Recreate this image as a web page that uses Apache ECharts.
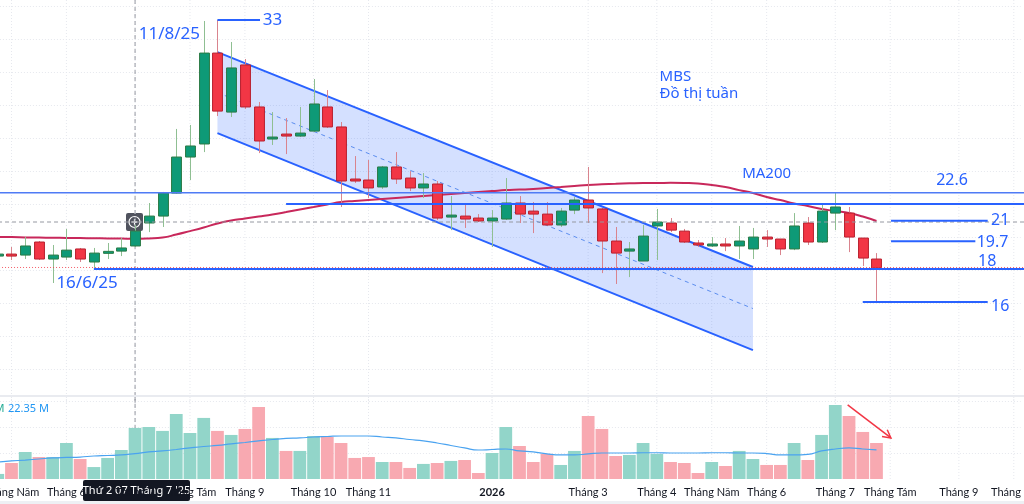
<!DOCTYPE html>
<html><head><meta charset="utf-8">
<script src="https://cdn.jsdelivr.net/npm/echarts@6/dist/echarts.min.js"></script>
<style>html,body{margin:0;padding:0;background:#fff}#c{width:1024px;height:504px}</style>
</head><body><div id="c"></div>
<script>
// ---- DATA (weekly candles, first entry = partial week at the left edge) ----
// [open, close, low, high]
const candles = [
[18.72,18.84,18.60,18.96],[18.84,18.72,18.48,19.27],[18.78,19.33,18.54,19.87],[19.57,18.54,18.48,19.63],
[18.54,18.78,17.09,19.39],[18.66,19.08,18.48,20.36],[19.15,18.54,18.36,19.21],[18.36,18.90,18.00,19.21],
[18.93,18.96,18.54,19.51],[19.02,19.21,18.72,19.81],[19.33,20.23,19.27,20.60],[20.72,21.14,20.17,21.93],
[21.14,22.53,20.48,22.60],[22.53,24.71,22.50,26.41],[24.71,25.38,23.32,26.65],[25.50,31.00,25.01,32.94],
[31.00,27.49,27.19,33.00],[27.43,30.10,27.13,31.67],[30.28,27.74,27.62,30.64],[27.74,25.68,24.95,28.04],
[25.83,25.89,25.44,27.43],[26.07,26.01,24.89,27.07],[25.98,26.16,25.92,27.74],[26.28,27.92,26.22,29.43],
[27.74,26.53,26.47,28.76],[26.53,23.26,21.69,26.83],[23.38,23.26,23.14,24.77],[23.32,22.84,22.23,24.53],
[22.90,24.11,22.78,24.17],[24.11,23.38,23.08,25.01],[23.44,22.84,22.65,23.86],[22.84,23.08,22.23,23.74],
[23.08,21.02,20.90,23.26],[21.12,21.16,20.29,22.35],[21.14,20.96,20.42,21.81],[21.02,20.84,20.78,21.26],
[20.84,21.02,19.27,21.50],[20.96,21.93,20.90,23.44],[21.93,21.26,20.72,22.35],[21.44,21.26,20.11,21.99],
[21.26,20.60,20.54,21.99],[20.60,21.44,20.48,21.63],[21.50,22.11,21.26,22.29],[22.11,21.63,20.72,24.11],
[21.57,19.63,17.69,21.63],[19.63,18.90,17.03,20.48],[19.02,19.15,17.45,19.57],[18.42,19.93,18.42,20.60],
[20.54,20.78,18.48,21.57],[20.72,20.29,20.17,21.02],[20.23,19.57,19.51,20.36],[19.51,19.39,19.27,19.69],
[19.33,19.45,19.27,19.87],[19.45,19.33,19.02,19.81],[19.33,19.63,18.54,20.54],[19.15,19.87,18.54,20.42],
[19.84,19.78,19.27,20.29],[19.75,19.15,18.78,19.75],[19.15,20.54,19.08,21.32],[20.72,19.57,19.39,21.08],
[19.57,21.44,19.51,21.81],[21.32,21.69,20.29,22.59],[21.32,19.87,18.96,21.69],[19.81,18.60,18.12,19.81],
[18.54,18.00,15.88,18.90]
];
// weekly volume, millions
const volumes = [3.9,12.3,20.8,16.9,16.9,27.7,15.4,9.2,16.2,22.3,39.3,40.0,37.0,50.1,35.4,47.0,37.0,33.9,38.5,55.4,
31.6,21.6,21.6,33.1,32.3,27.7,16.2,16.9,13.1,13.1,8.5,11.6,12.3,13.9,14.6,4.6,20.0,40.0,25.4,13.1,
19.3,10.8,21.6,48.5,38.5,17.7,18.5,27.7,19.3,13.1,12.3,4.6,13.1,10.0,21.6,15.4,10.8,10.8,27.7,14.6,
33.9,57.0,48.5,36.2,27.7];
// volume moving average, millions
const volumeMA = [13.1,13.9,14.6,15.4,16.2,16.6,16.9,17.7,18.1,18.5,19.6,20.8,21.6,22.7,23.9,25.0,25.8,27.0,28.1,29.3,
30.4,31.2,31.6,32.3,32.7,33.1,33.1,33.1,32.3,31.6,30.4,29.3,27.7,25.8,23.9,22.3,22.7,23.1,21.6,20.8,
19.3,18.5,18.5,19.3,20.0,20.0,20.0,20.2,20.2,20.0,20.0,20.0,20.2,20.2,20.0,20.0,19.6,18.5,18.5,18.9,
21.6,23.1,23.9,23.1,22.35];
// MA200 (price)
const ma200 = [19.87,19.87,19.85,19.84,19.83,19.82,19.81,19.80,19.79,19.78,19.77,19.79,19.84,20.02,20.23,20.45,20.69,
20.87,20.99,21.11,21.23,21.38,21.54,21.69,21.84,21.99,22.05,22.11,22.17,22.23,22.29,22.35,22.41,22.47,22.53,
22.59,22.65,22.71,22.74,22.77,22.84,22.90,22.96,23.02,23.06,23.09,23.12,23.14,23.14,23.15,23.14,23.11,23.02,
22.90,22.71,22.53,22.29,22.11,21.90,21.75,21.57,21.44,21.32,21.11,20.84];
// week slots (Tet week 16/02/2026 has no bar)
const categories = [];
(function(){ let d = Date.UTC(2025,3,28); while (categories.length < 75) { const s = new Date(d).toISOString().slice(0,10); if (s !== '2026-02-16') categories.push(s); d += 7*864e5; } })();
// x-axis month labels (category slot, text)
const tickSlots = [1,5,10,14,18,23,27,36,43,48,52,56,61,65,70,74];
const tickTexts = ['Tháng Năm','Tháng 6','Tháng 7','Tháng Tám','Tháng 9','Tháng 10','Tháng 11','2026','Tháng 3','Tháng 4','Tháng Năm','Tháng 6','Tháng 7','Tháng Tám','Tháng 9','Tháng 10'];
// drawn levels: [fromSlot, toSlot, price]
const levels = [[-1,76,22.55],[21,76,21.87],[7,76,17.94],[16,19.1,33.0],[65.06,72.1,20.86],[65.06,71.2,19.61],[63,72.1,15.94]];
const lastClose = 18.0;
const crossPrice = 20.78, crossSlot = 10;
// channel: slot start/end, upper & lower prices at start and end
const channel = {from:16, to:55, upper:[31.06,18.06], lower:[26.16,13.03]};
// annotation texts: [text, slot, price, align, size]
const notes = [['33',19.3,33.0,'left',17],['11/8/25',12.5,32.15,'center',17],['16/6/25',6.5,17.06,'center',17],
['MBS',48.2,29.58,'left',15],['Đồ thị tuần',48.2,28.52,'left',15],['MA200',56.0,23.68,'center',15],
['22.6',69.5,23.29,'center',16],['21',72.34,20.90,'left',16],['19.7',71.3,19.57,'left',16],['18',71.4,18.42,'left',16],['16',72.34,15.70,'left',16]];
// volume arrow: [slot, volume] start and end
const volArrow = [[61.9,57.0],[65.05,31.6]];

// ---- CHART ----
const BLUE = '#2962ff', FONT = '"Noto Sans", sans-serif';
const tickSet = new Set(tickSlots);
function xAt(api, ci, p) {
  const i0 = Math.max(0, Math.min(73, Math.floor(ci)));
  const a = api.coord([i0, p]), b = api.coord([i0 + 1, p]);
  return [a[0] + (b[0] - a[0]) * (ci - i0), a[1]];
}
function vGrid(params, api) {
  const cs = params.coordSys; const ch = [];
  tickSlots.forEach(s => { const x = api.coord([s, 0])[0];
    ch.push({type:'line', shape:{x1:x,y1:cs.y,x2:x,y2:cs.y+cs.height}, style:{stroke:'#e6e8ee', lineWidth:1, lineDash:[1,2]}}); });
  const xc = api.coord([crossSlot, 0])[0];
  ch.push({type:'line', shape:{x1:xc,y1:cs.y,x2:xc,y2:cs.y+cs.height}, style:{stroke:'#9598a1', lineWidth:1, lineDash:[4,3]}});
  return {type:'group', children: ch};
}
const chart = echarts.init(document.getElementById('c'));
const candleData = candles.map((d, k) => [k, d[0], d[1], d[2], d[3]]);
const volData = volumes.map((v, k) => ({value: v, itemStyle: {color: candles[k][1] >= candles[k][0] ? '#92d5c9' : '#f8a9b1'}}));
const xCommon = {type:'category', data: categories, boundaryGap: true};
chart.setOption({
  animation: false,
  backgroundColor: '#ffffff',
  grid: [
    {left: -9.1, right: 3.35, top: 0, bottom: 101.3, outerBoundsMode: 'none'},
    {left: -9.1, right: 3.35, top: 397, bottom: 25, outerBoundsMode: 'none'}
  ],
  xAxis: [
    Object.assign({gridIndex: 0, axisLine:{show:false}, axisTick:{show:false}, axisLabel:{show:false}, splitLine:{show:false}}, xCommon),
    Object.assign({gridIndex: 1, axisLine:{show:false}, axisTick:{show:false}, splitLine:{show:false},
      axisLabel:{interval: (i) => tickSet.has(i), showMaxLabel: true, hideOverlap: false, margin: 8, color:'#131722', fontSize: 11, fontFamily: 'Lato, sans-serif',
        formatter: (v, i) => { const t = tickTexts[tickSlots.indexOf(i)] || ''; return t === '2026' ? '{b|2026}' : t; },
        rich: {b: {fontWeight: 'bold', fontSize: 11, color:'#131722', fontFamily:'Lato, sans-serif'}}}}, xCommon)
  ],
  yAxis: [
    {gridIndex: 0, type:'value', min: 9.85, max: 34.21, interval: 2, axisLine:{show:false}, axisTick:{show:false}, axisLabel:{show:false},
     splitLine:{show:true, showMinLine:false, showMaxLine:false, lineStyle:{color:'#e6e8ee', type:[1,2]}}},
    {gridIndex: 1, type:'value', min: 0, max: 63.1, interval: 20, axisLine:{show:false}, axisTick:{show:false}, axisLabel:{show:false},
     splitLine:{show:true, showMinLine:false, showMaxLine:false, lineStyle:{color:'#e6e8ee', type:[1,2]}}}
  ],
  series: [
    {type:'custom', name:'grid-price', xAxisIndex:0, yAxisIndex:0, z:0, silent:true, data:[[0, 20]], renderItem: (p, api) => vGrid(p, api)},
    {type:'custom', name:'grid-vol', xAxisIndex:1, yAxisIndex:1, z:0, silent:true, data:[[0, 0]], renderItem: (p, api) => vGrid(p, api)},
    {type:'custom', name:'channel', xAxisIndex:0, yAxisIndex:0, z:1, silent:true, data:[[channel.from, channel.upper[0]]],
     renderItem: (params, api) => {
       const u0 = xAt(api, channel.from, channel.upper[0]), u1 = xAt(api, channel.to, channel.upper[1]);
       const l0 = xAt(api, channel.from, channel.lower[0]), l1 = xAt(api, channel.to, channel.lower[1]);
       const m0 = xAt(api, channel.from, (channel.upper[0]+channel.lower[0])/2), m1 = xAt(api, channel.to, (channel.upper[1]+channel.lower[1])/2);
       return {type:'group', children:[
         {type:'polygon', shape:{points:[u0,u1,l1,l0]}, style:{fill:'rgba(41,98,255,0.2)'}},
         {type:'line', shape:{x1:m0[0],y1:m0[1],x2:m1[0],y2:m1[1]}, style:{stroke:'#5b8def', lineWidth:1, lineDash:[4,4]}},
         {type:'line', shape:{x1:u0[0],y1:u0[1],x2:u1[0],y2:u1[1]}, style:{stroke:BLUE, lineWidth:2}},
         {type:'line', shape:{x1:l0[0],y1:l0[1],x2:l1[0],y2:l1[1]}, style:{stroke:BLUE, lineWidth:2}}
       ]};
     }},
    {type:'line', name:'MA200', xAxisIndex:0, yAxisIndex:0, z:2, data: ma200, showSymbol:false, smooth:true, silent:true,
     lineStyle:{color:'#c8285b', width:2}},
    {type:'custom', name:'MBS', xAxisIndex:0, yAxisIndex:0, z:3, data: candleData, encode:{x:0, y:[1,2,3,4]},
     renderItem: (params, api) => {
       const i = api.value(0), o = api.value(1), c = api.value(2), l = api.value(3), h = api.value(4);
       const up = c >= o;
       const po = api.coord([i, o]), pc = api.coord([i, c]), pl = api.coord([i, l]), ph = api.coord([i, h]);
       const w = api.size([1, 0])[0] * 0.72, x = Math.round(po[0]) + 0.5;
       let top = Math.min(po[1], pc[1]), bot = Math.max(po[1], pc[1]);
       if (bot - top < 2) { const m = (top + bot) / 2; top = m - 1; bot = m + 1; }
       return {type:'group', children:[
         {type:'line', shape:{x1:x, y1:ph[1], x2:x, y2:pl[1]}, style:{stroke: up ? '#8fbf92' : '#d9848e', lineWidth:1}},
         {type:'rect', shape:{x: x - w/2, y: top, width: w, height: bot - top}, style:{fill: up ? '#0e9a77' : '#f23645', stroke: up ? '#2a7a45' : '#b8202f', lineWidth:1}}
       ]};
     }},
    {type:'custom', name:'drawings', xAxisIndex:0, yAxisIndex:0, z:4, silent:true, data:[[0, lastClose]],
     renderItem: (params, api) => {
       const ch = [];
       const a = xAt(api, -1, lastClose), b = xAt(api, 76, lastClose);
       ch.push({type:'line', shape:{x1:a[0],y1:a[1]-0.5,x2:b[0],y2:b[1]-0.5}, style:{stroke:'#f23645', lineWidth:1, lineDash:[1,2], opacity:0.8}});
       const c1 = xAt(api, -1, crossPrice), c2 = xAt(api, 76, crossPrice);
       ch.push({type:'line', shape:{x1:c1[0],y1:c1[1],x2:c2[0],y2:c2[1]}, style:{stroke:'#9598a1', lineWidth:1, lineDash:[4,3]}});
       levels.forEach((lv, k) => { const p0 = xAt(api, lv[0], lv[2]), p1 = xAt(api, lv[1], lv[2]);
         ch.push({type:'line', shape:{x1:p0[0],y1:p0[1],x2:p1[0],y2:p1[1]}, style:{stroke: k === 0 ? '#4f7bf5' : BLUE, lineWidth: k === 0 ? 1.6 : 2}}); });
       notes.forEach(n => { const p = xAt(api, n[1], n[2]);
         ch.push({type:'text', x:p[0], y:p[1], style:{text:n[0], fill:BLUE, font: n[4] + 'px ' + FONT, align:n[3], verticalAlign:'middle'}}); });
       return {type:'group', children: ch};
     }},
    {type:'bar', name:'Volume', xAxisIndex:1, yAxisIndex:1, z:2, data: volData, barCategoryGap:'7%', silent:true},
    {type:'line', name:'Volume MA', xAxisIndex:1, yAxisIndex:1, z:3, data: volumeMA, showSymbol:false, smooth:true, silent:true,
     lineStyle:{color:'#4aa3f0', width:1.2}},
    {type:'custom', name:'vol-arrow', xAxisIndex:1, yAxisIndex:1, z:4, silent:true, data:[[0, 0]],
     renderItem: (params, api) => {
       const s = xAt(api, volArrow[0][0], volArrow[0][1]), e = xAt(api, volArrow[1][0], volArrow[1][1]);
       const ang = Math.atan2(e[1] - s[1], e[0] - s[0]), L = 9;
       const h1 = [e[0] - L*Math.cos(ang - 0.5), e[1] - L*Math.sin(ang - 0.5)];
       const h2 = [e[0] - L*Math.cos(ang + 0.5), e[1] - L*Math.sin(ang + 0.5)];
       return {type:'group', children:[
         {type:'line', shape:{x1:s[0],y1:s[1],x2:e[0],y2:e[1]}, style:{stroke:'#f23645', lineWidth:1.5}},
         {type:'polyline', shape:{points:[h1, e, h2]}, style:{stroke:'#f23645', lineWidth:1.5, fill:null}}
       ]};
     }}
  ],
  graphic: [
    {type:'rect', shape:{x:0, y:395, width:1024, height:2}, style:{fill:'#e9ebf0'}, z:10, silent:true},
    {type:'rect', shape:{x:0, y:501, width:1024, height:3}, style:{fill:'#eef0f4'}, z:10, silent:true},
    {type:'text', x:4.5, y:409, style:{text:'27.7 M', fill:'#22ab94', font:'11px ' + FONT, align:'right', verticalAlign:'middle'}, z:10, silent:true},
    {type:'text', x:8, y:409, style:{text:'22.35 M', fill:'#2196f3', font:'11px ' + FONT, align:'left', verticalAlign:'middle'}, z:10, silent:true},
    {type:'group', x:126, y:213, z:10, silent:true, children:[
      {type:'rect', shape:{x:0, y:0, width:17, height:18, r:2}, style:{fill:'#50535e'}},
      {type:'circle', shape:{cx:8.5, cy:9, r:5.5}, style:{fill:null, stroke:'#ffffff', lineWidth:1.2}},
      {type:'line', shape:{x1:5.5, y1:9, x2:11.5, y2:9}, style:{stroke:'#ffffff', lineWidth:1.2}},
      {type:'line', shape:{x1:8.5, y1:6, x2:8.5, y2:12}, style:{stroke:'#ffffff', lineWidth:1.2}}
    ]},
    {type:'group', x:83, y:480, z:10, silent:true, children:[
      {type:'rect', shape:{x:0, y:0, width:107, height:21, r:2}, style:{fill:'#131722'}},
      {type:'text', x:53.5, y:10.5, style:{text:"Thứ 2 07 Tháng 7 '25", fill:'#ffffff', font:'11px ' + FONT, align:'center', verticalAlign:'middle'}}
    ]}
  ]
});
</script></body></html>
